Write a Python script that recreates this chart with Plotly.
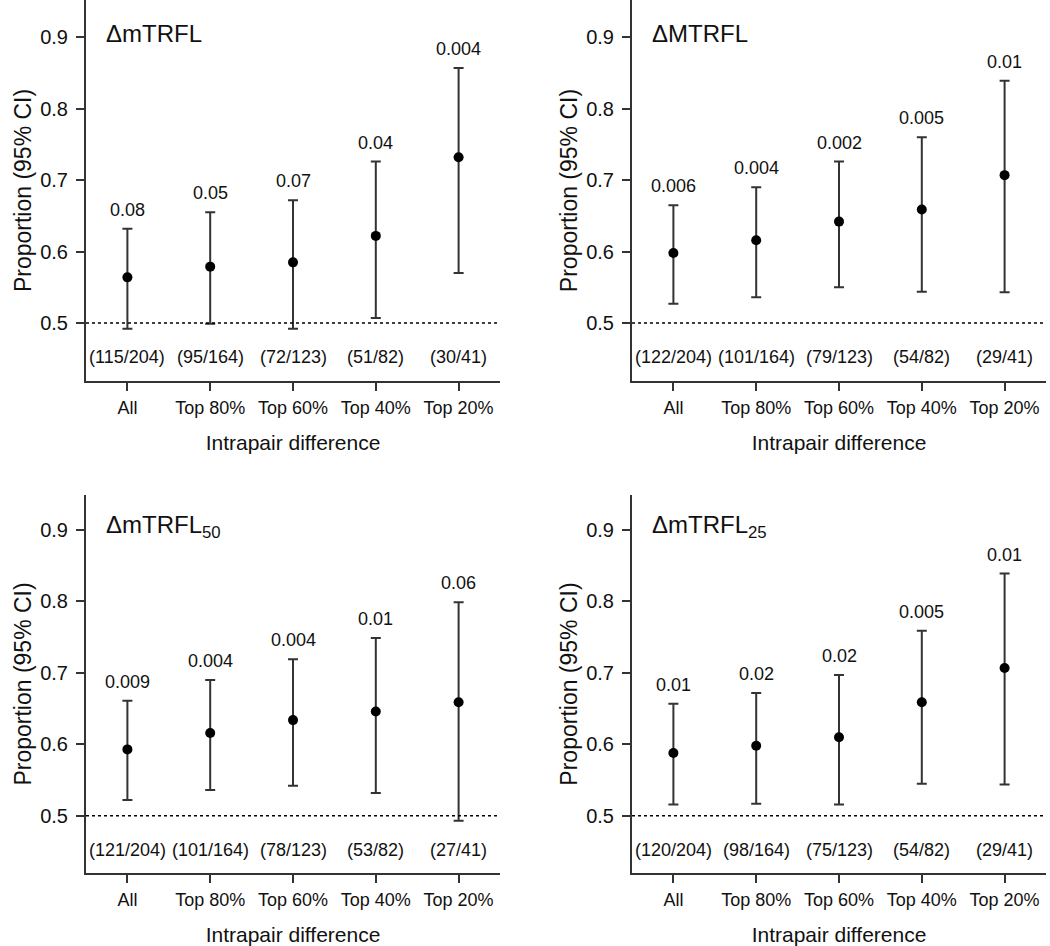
import plotly.graph_objects as go

categories = ["All", "Top 80%", "Top 60%", "Top 40%", "Top 20%"]

titles = ["ΔmTRFL", "ΔMTRFL", "ΔmTRFL<sub>50</sub>", "ΔmTRFL<sub>25</sub>"]

prop_mTRFL = [0.564, 0.579, 0.585, 0.622, 0.732]
upper_mTRFL = [0.632, 0.655, 0.672, 0.726, 0.857]
lower_mTRFL = [0.492, 0.499, 0.492, 0.507, 0.570]
p_mTRFL = ["0.08", "0.05", "0.07", "0.04", "0.004"]
n_mTRFL = ["(115/204)", "(95/164)", "(72/123)", "(51/82)", "(30/41)"]

prop_MTRFL = [0.598, 0.616, 0.642, 0.659, 0.707]
upper_MTRFL = [0.665, 0.690, 0.726, 0.760, 0.839]
lower_MTRFL = [0.527, 0.536, 0.550, 0.544, 0.543]
p_MTRFL = ["0.006", "0.004", "0.002", "0.005", "0.01"]
n_MTRFL = ["(122/204)", "(101/164)", "(79/123)", "(54/82)", "(29/41)"]

prop_m50 = [0.593, 0.616, 0.634, 0.646, 0.659]
upper_m50 = [0.661, 0.690, 0.719, 0.749, 0.799]
lower_m50 = [0.522, 0.536, 0.542, 0.532, 0.493]
p_m50 = ["0.009", "0.004", "0.004", "0.01", "0.06"]
n_m50 = ["(121/204)", "(101/164)", "(78/123)", "(53/82)", "(27/41)"]

prop_m25 = [0.588, 0.598, 0.610, 0.659, 0.707]
upper_m25 = [0.657, 0.672, 0.697, 0.759, 0.839]
lower_m25 = [0.516, 0.517, 0.516, 0.545, 0.544]
p_m25 = ["0.01", "0.02", "0.02", "0.005", "0.01"]
n_m25 = ["(120/204)", "(98/164)", "(75/123)", "(54/82)", "(29/41)"]

panels = [
    (prop_mTRFL, upper_mTRFL, lower_mTRFL, p_mTRFL, n_mTRFL),
    (prop_MTRFL, upper_MTRFL, lower_MTRFL, p_MTRFL, n_MTRFL),
    (prop_m50, upper_m50, lower_m50, p_m50, n_m50),
    (prop_m25, upper_m25, lower_m25, p_m25, n_m25),
]

W, H = 1050, 946
FONT = "Arial, Liberation Sans, Helvetica, sans-serif"
AXC = "#333333"
TXT = "#111111"

# pixel boxes of plot areas (left, right, top, bottom)
boxes = [(86, 500, 0, 381), (632, 1046, 0, 381), (86, 500, 495, 873), (632, 1046, 495, 873)]
yranges = [[0.419, 0.952], [0.419, 0.952], [0.420, 0.949], [0.420, 0.949]]

fig = go.Figure()
annotations = []
shapes = []
xs = list(range(len(categories)))

for i, (prop, up, lo, pv, nv) in enumerate(panels):
    k = "" if i == 0 else str(i + 1)
    xref, yref = "x" + k, "y" + k
    plus = [u - p for u, p in zip(up, prop)]
    minus = [p - l for p, l in zip(prop, lo)]
    fig.add_trace(go.Scatter(
        x=xs, y=prop, mode="markers", xaxis=xref, yaxis=yref,
        marker=dict(color="black", size=10),
        error_y=dict(type="data", symmetric=False, array=plus, arrayminus=minus,
                     color=AXC, thickness=2, width=5),
        showlegend=False, hoverinfo="skip"))
    l, r, t, b = boxes[i]
    fig.layout["xaxis" + k] = dict(
        domain=[l / W, r / W], anchor=yref, range=[-0.5, 4.5],
        tickmode="array", tickvals=xs, ticktext=categories,
        showline=True, linecolor=AXC, linewidth=2, ticks="outside", ticklen=8,
        tickwidth=2, tickcolor=AXC, showgrid=False, zeroline=False,
        tickfont=dict(size=18, color=TXT, family=FONT), ticklabelstandoff=1,
        title=dict(text="Intrapair difference", font=dict(size=21, color=TXT, family=FONT), standoff=19),
    )
    fig.layout["yaxis" + k] = dict(
        domain=[1 - b / H, 1 - t / H], anchor=xref, range=yranges[i],
        tickmode="array", tickvals=[0.5, 0.6, 0.7, 0.8, 0.9],
        ticktext=["0.5", "0.6", "0.7", "0.8", "0.9"],
        showline=True, linecolor=AXC, linewidth=2, ticks="outside", ticklen=8,
        tickwidth=2, tickcolor=AXC, showgrid=False, zeroline=False,
        tickfont=dict(size=20, color=TXT, family=FONT), ticklabelstandoff=4,
        title=dict(text="Proportion (95% CI)", font=dict(size=23, color=TXT, family=FONT), standoff=2),
    )
    shapes.append(dict(type="line", xref=xref + " domain", yref=yref, x0=0, x1=1, y0=0.5, y1=0.5,
                       line=dict(color="black", width=1.5, dash="dot")))
    annotations.append(dict(xref=xref, yref=yref, x=-0.28, y=0.905, text=titles[i],
                            xanchor="left", yanchor="middle", showarrow=False,
                            font=dict(size=24, color=TXT, family=FONT)))
    for j in xs:
        annotations.append(dict(xref=xref, yref=yref, x=j, y=up[j], text=pv[j], yshift=19,
                                xanchor="center", yanchor="middle", showarrow=False,
                                font=dict(size=18, color=TXT, family=FONT)))
        annotations.append(dict(xref=xref, yref=yref, x=j, y=0.452, text=nv[j],
                                xanchor="center", yanchor="middle", showarrow=False,
                                font=dict(size=18, color=TXT, family=FONT)))

fig.update_layout(width=W, height=H, margin=dict(l=0, r=0, t=0, b=0),
                  paper_bgcolor="white", plot_bgcolor="white",
                  annotations=annotations, shapes=shapes,
                  font=dict(family=FONT, color=TXT))

fig.write_html("out.html", config={"displayModeBar": False},
               post_script="document.body.style.margin='0px';")
